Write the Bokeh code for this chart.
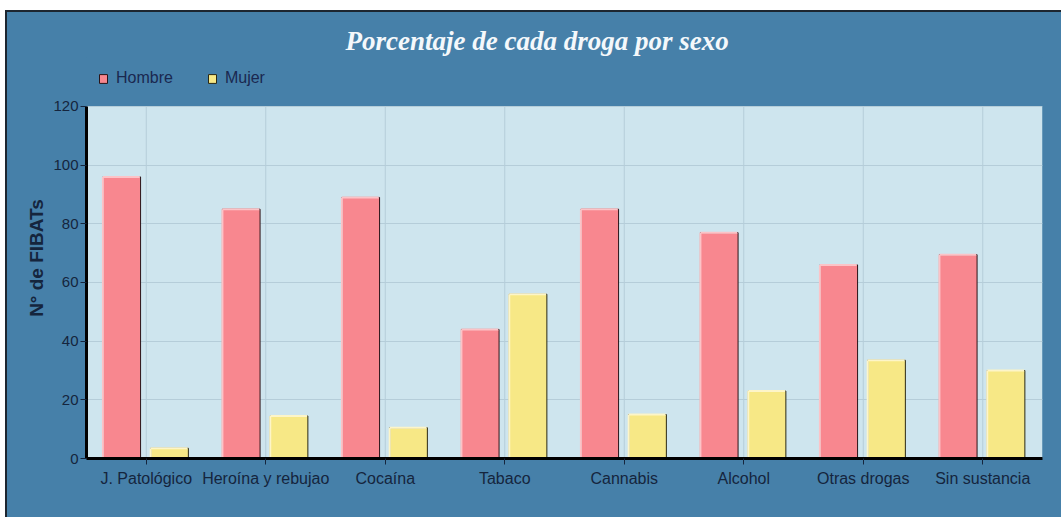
from bokeh.plotting import figure
from bokeh.models import (ColumnDataSource, FactorRange, Range1d, FixedTicker, Legend,
                          LegendItem, BoxAnnotation)
from bokeh.transform import dodge
from bokeh.embed import file_html
from bokeh.resources import INLINE

categories = ["J. Patológico", "Heroína y rebujao", "Cocaína", "Tabaco",
              "Cannabis", "Alcohol", "Otras drogas", "Sin sustancia"]
hombre = [96, 85, 89, 44, 85, 77, 66, 69.5]
mujer = [3.5, 14.5, 10.5, 56, 15, 23, 33.5, 30]
y_ticks = [0, 20, 40, 60, 80, 100, 120]

PANEL = "#4680a9"
FRAME = "#cee5ee"
GRID = "#b5cdd9"
C_H = "#f8878f"
C_M = "#f7e886"
TXT = "#15253d"
FONT = "Liberation Sans"

y_lo, y_hi = y_ticks[0], y_ticks[-1]
y_top = y_hi + 16.7  # extra room above the plot area for the legend

src = ColumnDataSource(dict(cat=categories, hombre=hombre, mujer=mujer,
                            lo=[y_lo] * len(categories), hi=[y_hi] * len(categories)))

p = figure(x_range=FactorRange(factors=categories, range_padding=0),
           y_range=Range1d(y_lo, y_top),
           width=1056, height=507, output_backend="svg", toolbar_location=None,
           min_border_left=79, min_border_right=21, min_border_top=45, min_border_bottom=61)
p.margin = (10, 0, 0, 5)
p.styles = {"border-top": "2px solid #1d2630", "border-left": "2px solid #1d2630",
            "background-color": PANEL}

p.background_fill_color = PANEL
p.border_fill_color = PANEL
p.outline_line_color = None

# light-blue plot area (0..120)
p.add_layout(BoxAnnotation(bottom=y_lo, top=y_hi, fill_color=FRAME, fill_alpha=1,
                           line_color=None, level="image"))

# vertical grid lines at category centres, limited to the plot area
p.xgrid.visible = False
p.segment(x0="cat", y0="lo", x1="cat", y1="hi", source=src, line_color=GRID,
          line_width=1, level="underlay")
p.ygrid.grid_line_color = GRID
p.ygrid.grid_line_width = 1

W = 0.315
OFF_H = -0.205
OFF_M = 0.195

rh = p.vbar(x=dodge("cat", OFF_H, range=p.x_range), top="hombre", width=W, source=src,
            fill_color=C_H, line_color="#2a1418", line_width=1)
rm = p.vbar(x=dodge("cat", OFF_M, range=p.x_range), top="mujer", width=W, source=src,
            fill_color=C_M, line_color="#2a2814", line_width=1)

# bevel highlights (left and top edges)
for off, col, hl in [(OFF_H, "hombre", "#fcc3c7"), (OFF_M, "mujer", "#fdf5c8")]:
    p.segment(x0=dodge("cat", off - W / 2, range=p.x_range), y0="lo",
              x1=dodge("cat", off - W / 2, range=p.x_range), y1=col,
              source=src, line_color=hl, line_width=2)
    p.segment(x0=dodge("cat", off - W / 2, range=p.x_range), y0=col,
              x1=dodge("cat", off + W / 2 - 0.006, range=p.x_range), y1=col,
              source=src, line_color=hl, line_width=2)

p.title.text = "Porcentaje de cada droga por sexo"
p.title.align = "left"
p.title.offset = 259
p.title.vertical_align = "top"
p.title.text_font = "Liberation Serif"
p.title.text_font_style = "bold italic"
p.title.text_font_size = "27px"
p.title.text_color = "#f4f8fb"
p.title.standoff = 0

legend = Legend(items=[LegendItem(label="Hombre", renderers=[rh]),
                       LegendItem(label="Mujer", renderers=[rm])],
                orientation="horizontal", location="top_left")
legend.background_fill_alpha = 0
legend.border_line_alpha = 0
legend.label_text_font = FONT
legend.label_text_font_size = "16px"
legend.label_text_color = "#1a2850"
legend.glyph_width = 10
legend.glyph_height = 11
legend.label_standoff = 8
legend.spacing = 34
legend.padding = 10
legend.margin = 2
p.add_layout(legend)

p.yaxis.ticker = FixedTicker(ticks=y_ticks)
p.yaxis.bounds = (y_lo, y_hi)
p.yaxis.minor_tick_line_color = None
p.yaxis.axis_line_width = 3
p.yaxis.axis_line_color = "black"
p.yaxis.major_tick_line_color = TXT
p.yaxis.major_tick_out = 6
p.yaxis.major_tick_in = 0
p.yaxis.major_label_text_font = FONT
p.yaxis.major_label_text_font_size = "15px"
p.yaxis.major_label_text_color = TXT
p.yaxis.major_label_standoff = 2
p.yaxis.axis_label = "N° de FIBATs"
p.yaxis.axis_label_text_font = FONT
p.yaxis.axis_label_text_font_style = "bold"
p.yaxis.axis_label_text_font_size = "19px"
p.yaxis.axis_label_text_color = TXT
p.yaxis.axis_label_standoff = 3

p.xaxis.axis_line_width = 3
p.xaxis.axis_line_color = "black"
p.xaxis.major_tick_line_color = TXT
p.xaxis.major_tick_out = 6
p.xaxis.major_tick_in = 0
p.xaxis.major_label_text_font = FONT
p.xaxis.major_label_text_font_size = "16px"
p.xaxis.major_label_text_color = TXT
p.xaxis.major_label_standoff = 5

open("out.html", "w").write(file_html(p, INLINE))
